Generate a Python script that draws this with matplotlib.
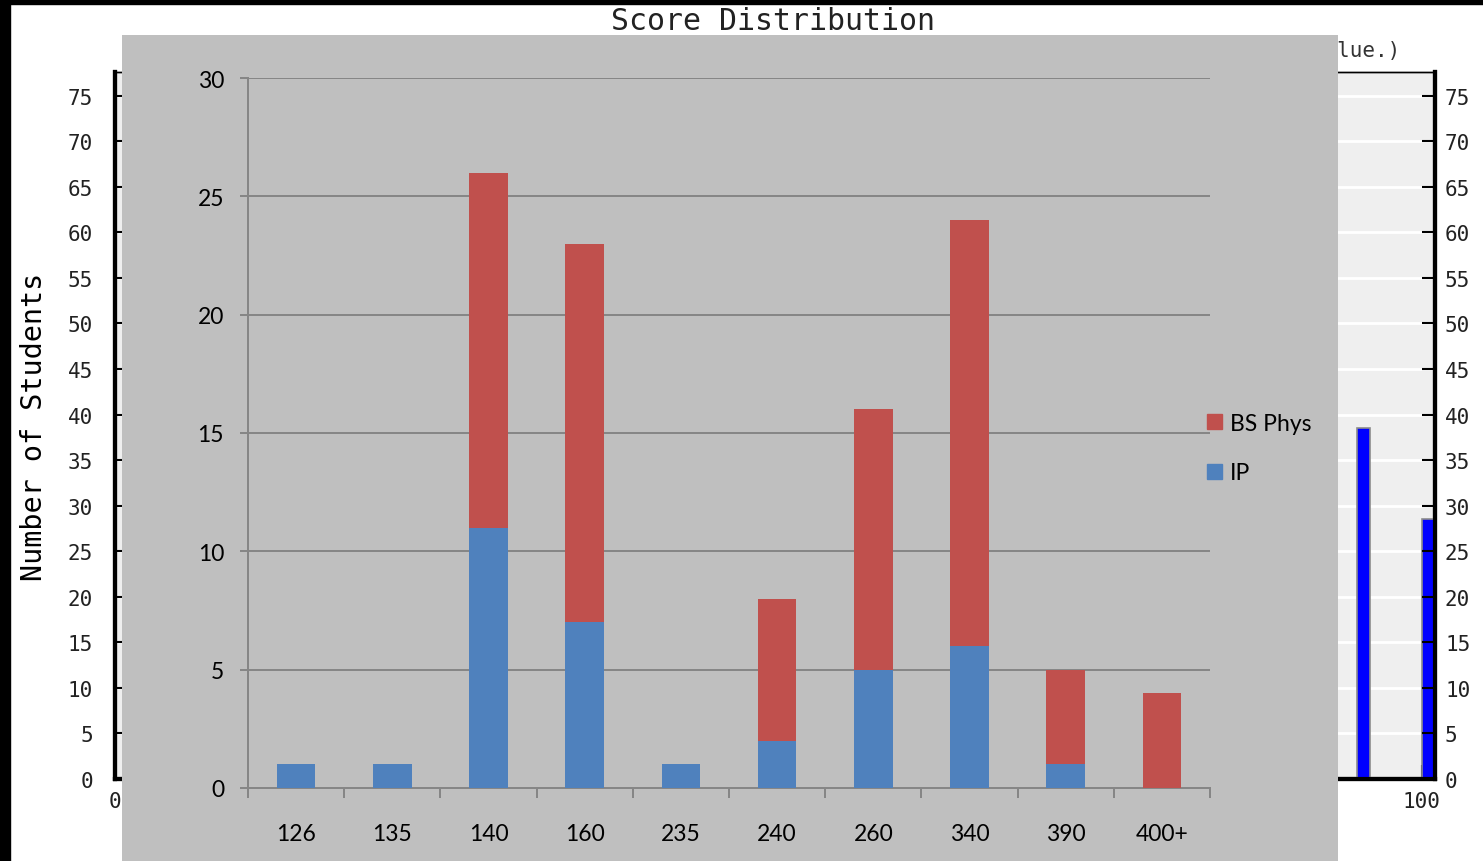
import matplotlib
matplotlib.use("Agg")
import matplotlib.pyplot as plt
from matplotlib.patches import Rectangle, Patch
import numpy as np

# stacked bars (overlay chart)
categories = ["126", "135", "140", "160", "235", "240", "260", "340", "390", "400+"]
ip_counts = [1, 1, 11, 7, 1, 2, 5, 6, 1, 0]
bs_phys_counts = [0, 0, 15, 16, 0, 6, 11, 18, 4, 4]

# background screenshot chart
bg_bar_left = [95, 100]
bg_bar_height = [38.5, 28.5]
bg_yticks = list(range(0, 80, 5))

W, H = 1483, 862
PT = 0.72  # points per pixel at dpi 100

RED = "#C0504D"
BLUE = "#4F81BD"
PANEL = "#BFBFBF"
GRID = "#868686"
MONO = "DejaVu Sans Mono"
SANS = "Lato"


def frac(x0, y0, x1, y1):
    """pixel box (top-left origin) -> figure fraction rect"""
    return [x0 / W, (H - y1) / H, (x1 - x0) / W, (y1 - y0) / H]


fig = plt.figure(figsize=(W / 100, H / 100), dpi=100)
fig.patch.set_facecolor("white")

# ---- background chart (partly hidden) ----
bg = fig.add_axes(frac(115, 73, 1435, 780))
bg.set_facecolor("#EFEFEF")
bg.set_xlim(0, 101)
bg.set_ylim(0, 77.6)
bg.bar(bg_bar_left, bg_bar_height, width=1, align="edge", color="#0000FF",
       edgecolor="#8C8C8C", linewidth=1.2, zorder=3)
bg.set_yticks(bg_yticks)
bg.yaxis.grid(True, color="white", linewidth=2)
bg.set_axisbelow(True)
bg.tick_params(axis="y", direction="in", length=13 * PT, width=1.5,
               labelsize=15, pad=22 * PT)
bg.set_xticks([0, 100])
bg.set_xticklabels(["0", "100"])
bg.tick_params(axis="x", direction="in", length=14 * PT, width=1.5,
               labelsize=15, pad=9)

bg_r = bg.twinx()
bg_r.set_ylim(bg.get_ylim())
bg_r.set_yticks(bg_yticks)
bg_r.tick_params(axis="y", direction="in", length=13 * PT, width=1.5,
                 labelsize=15, pad=10 * PT)

for lab in bg.get_xticklabels() + bg.get_yticklabels() + bg_r.get_yticklabels():
    lab.set_family(MONO)
    lab.set_color("#222222")
for a in (bg, bg_r):
    a.spines["left"].set_linewidth(3)
    a.spines["right"].set_linewidth(3)
    a.spines["bottom"].set_linewidth(3)
    a.spines["top"].set_linewidth(1)
bg.set_ylabel("Number of Students", family=MONO, fontsize=20.5, labelpad=14)

fig.text(773 / W, 1 - 21 / H, "Score Distribution", family=MONO,
         fontsize=21.5, ha="center", va="center", color="#222222", zorder=1)
fig.text(1400 / W, 1 - 51 / H, "(Click on a bar to see its value.)",
         family=MONO, fontsize=15, ha="right", va="center",
         color="#333333", zorder=1)

# black screenshot borders
fig.patches.append(Rectangle((0, 0), 10 / W, 1, transform=fig.transFigure,
                             color="black", zorder=1))
fig.patches.append(Rectangle((0, 1 - 5 / H), 1, 5 / H,
                             transform=fig.transFigure, color="black",
                             zorder=1))

# ---- grey overlay panel ----
panel = fig.add_axes(frac(122, 36, 1338, 862))
panel.set_zorder(10)
panel.set_facecolor(PANEL)
panel.set_xticks([])
panel.set_yticks([])
for s in panel.spines.values():
    s.set_visible(False)

# ---- stacked bar chart ----
ax = fig.add_axes(frac(248, 79, 1210, 789))
ax.set_zorder(11)
ax.patch.set_alpha(0)
x = np.arange(len(categories))
ax.bar(x, ip_counts, width=0.4, color=BLUE, zorder=3, label="IP")
ax.bar(x, bs_phys_counts, width=0.4, bottom=ip_counts, color=RED,
       zorder=3, label="BS Phys")
ax.set_xlim(-0.5, len(categories) - 0.5)
ax.set_ylim(0, 30)
ax.set_yticks(range(0, 31, 5))
ax.yaxis.grid(True, color=GRID, linewidth=2 * PT)
ax.set_axisbelow(True)

ax.set_xticks(np.arange(-0.5, len(categories)), minor=False)
ax.set_xticklabels([])
ax.set_xticks(x, minor=True)
ax.set_xticklabels(categories, minor=True)
ax.tick_params(axis="x", which="major", direction="out", length=10 * PT,
               width=2 * PT, color=GRID)
ax.tick_params(axis="x", which="minor", length=0, pad=35 * PT, labelsize=16.5)
ax.tick_params(axis="y", direction="out", length=8 * PT, width=2 * PT,
               color=GRID, pad=16 * PT, labelsize=16.5)
for lab in ax.get_xticklabels(minor=True) + ax.get_yticklabels():
    lab.set_family(SANS)
    lab.set_color("black")

for side in ["top", "right"]:
    ax.spines[side].set_visible(False)
for side in ["left", "bottom"]:
    ax.spines[side].set_color(GRID)
    ax.spines[side].set_linewidth(2 * PT)

ax.legend(handles=[Patch(color=RED, label="BS Phys"),
                   Patch(color=BLUE, label="IP")],
          loc="center left", bbox_to_anchor=(1207 / W, 1 - 449 / H),
          bbox_transform=fig.transFigure, frameon=False,
          prop={"family": SANS, "size": 16.5}, handlelength=0.65,
          handleheight=0.65, handletextpad=0.35, labelspacing=1.25,
          borderpad=0, borderaxespad=0)

fig.savefig("out.png", dpi=100)
